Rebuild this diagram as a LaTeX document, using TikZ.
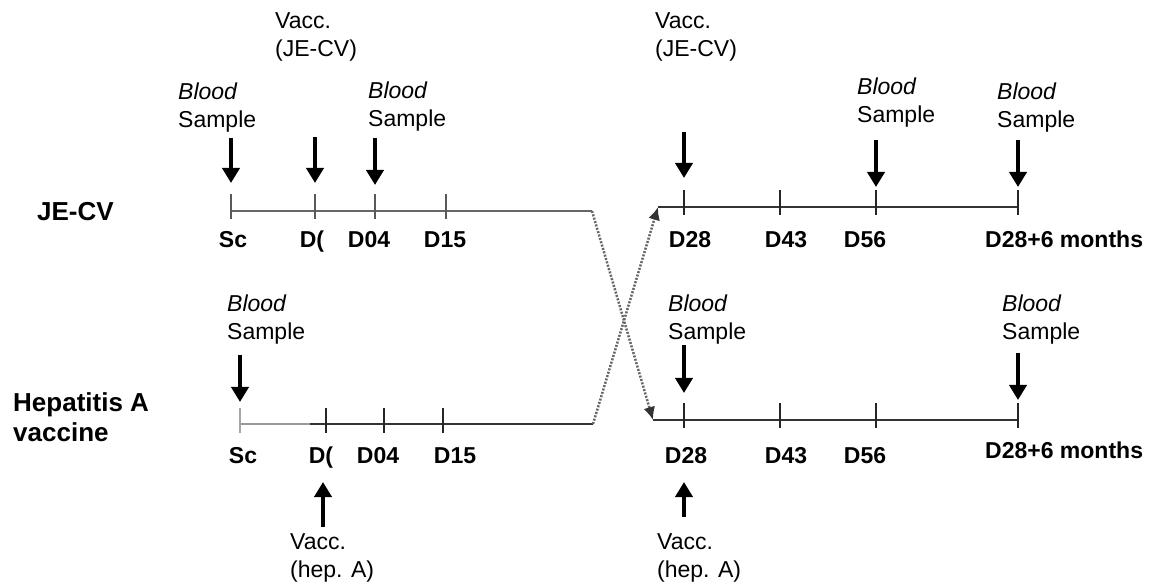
\documentclass[tikz,border=0pt]{standalone}
\usepackage{fontspec}
\setmainfont{Liberation Sans}
\usetikzlibrary{arrows.meta,calc,positioning}

\begin{document}
\begin{tikzpicture}[x=1pt,y=1pt,
  line/.style={line width=2pt,draw=black!80},
  tickmark/.style={line width=2pt,draw=black!85},
  arr/.style={line width=3.8pt,-{Triangle[width=17pt,length=15pt]}},
  cross/.style={line width=2.5pt,draw=black!60,dash pattern=on 2pt off 1.5pt,
    -{Latex[width=12pt,length=13pt,color=black!80]}},
  txt/.style={font=\fontsize{23}{28}\selectfont,align=left,inner sep=0pt,anchor=west},
  day/.style={font=\fontsize{23}{28}\selectfont\bfseries,inner sep=0pt,anchor=base},
  grp/.style={font=\fontsize{26}{30}\selectfont\bfseries,align=left,inner sep=0pt,anchor=west}]

\useasboundingbox (0,0) rectangle (1159,584);

% groups
\node[grp] (je) at (37,372) {JE-CV};
\node[grp] (ha) at (13,167) {Hepatitis A\\vaccine};

% period 1
\coordinate (a1s) at (231,373); \coordinate (a1e) at (592,373);
\coordinate (b1s) at (240,160); \coordinate (b1g) at (310,160); \coordinate (b1e) at (593,160);
\draw[line,draw=black!60] (a1s) -- (a1e);
\draw[line] (b1s) -- (b1e);
\draw[line,draw=black!40] (b1s) -- (b1g);

\foreach \n/\x/\lx/\t in {1/231/233/Sc, 2/315/312/{D(}, 3/375/369/D04, 4/446/445/D15} {
  \coordinate (a1t\n) at (\x,373);
  \draw[tickmark,draw=black!65] ([yshift=-8pt]a1t\n) -- ([yshift=17pt]a1t\n);
  \node[day] (a1l\n) at (\lx,336) {\t};
}
\foreach \n/\x/\lx/\t in {1/240/243/Sc, 2/326/321/{D(}, 3/384/378/D04, 4/443/455/D15} {
  \coordinate (b1t\n) at (\x,160);
  \draw[tickmark] ([yshift=-9pt]b1t\n) -- ([yshift=16pt]b1t\n);
  \node[day] (b1l\n) at (\lx,121) {\t};
}
\draw[tickmark,draw=black!35] ([yshift=-9pt]b1t1) -- ([yshift=16pt]b1t1);

% period 2
\coordinate (a2s) at (658,377); \coordinate (b2s) at (653,164);
\draw[line] (a2s) -- (1018,377);
\draw[line] (b2s) -- (1018,164);

\foreach \n/\x/\lx/\t in {1/684/690/D28, 2/780/786/D43, 3/876/865/D56} {
  \coordinate (a2t\n) at (\x,377);
  \draw[tickmark] ([yshift=-8pt]a2t\n) -- ([yshift=17pt]a2t\n);
  \node[day] (a2l\n) at (\lx,336) {\t};
}
\foreach \n/\x/\lx/\t in {1/684/686/D28, 2/780/786/D43, 3/876/865/D56} {
  \coordinate (b2t\n) at (\x,164);
  \draw[tickmark] ([yshift=-8pt]b2t\n) -- ([yshift=17pt]b2t\n);
  \node[day] (b2l\n) at (\lx,121) {\t};
}
\coordinate (a2t4) at (1018,377); \coordinate (b2t4) at (1018,164);
\draw[tickmark] ([yshift=-8pt]a2t4) -- ([yshift=17pt]a2t4);
\draw[tickmark] ([yshift=-8pt]b2t4) -- ([yshift=17pt]b2t4);
\node[day,anchor=base west] (a2l4) at (985,336) {D28+6 months};
\node[day,anchor=base west] (b2l4) at (985,126) {D28+6 months};

% cross-over
\draw[cross] (a1e) -- (b2s);
\draw[cross] (b1e) -- (a2s);

% events
\node[txt] (vja) at (275,547) {Vacc.\\(JE-CV)};
\node[txt] (bsa1) at (178,476) {\textit{Blood}\\Sample};
\node[txt] (bsa3) at (368,477) {\textit{Blood}\\Sample};
\node[txt] (vjb) at (655,547) {Vacc.\\(JE-CV)};
\node[txt] (bsb3) at (857,481) {\textit{Blood}\\Sample};
\node[txt] (bsb4) at (997,476) {\textit{Blood}\\Sample};
\node[txt] (bsc1) at (227,264) {\textit{Blood}\\Sample};
\node[txt] (vha) at (290,26) {Vacc.\\(hep. A)};
\node[txt] (bsd1) at (668,264) {\textit{Blood}\\Sample};
\node[txt] (bsd4) at (1002,264) {\textit{Blood}\\Sample};
\node[txt] (vhb) at (657,26) {Vacc.\\(hep. A)};

\draw[arr] ([yshift=73pt]a1t1) -- ([yshift=28pt]a1t1);
\draw[arr] ([yshift=74pt]a1t2) -- ([yshift=28pt]a1t2);
\draw[arr] ([yshift=73pt]a1t3) -- ([yshift=26pt]a1t3);
\draw[arr] ([yshift=75pt]a2t1) -- ([yshift=29pt]a2t1);
\draw[arr] ([yshift=67pt]a2t3) -- ([yshift=20pt]a2t3);
\draw[arr] ([yshift=67pt]a2t4) -- ([yshift=20pt]a2t4);
\draw[arr] ([yshift=69pt]b1t1) -- ([yshift=22pt]b1t1);
\draw[arr] ([yshift=75pt]b2t1) -- ([yshift=27pt]b2t1);
\draw[arr] ([yshift=67pt]b2t4) -- ([yshift=20pt]b2t4);
\draw[arr] ([xshift=-3pt,yshift=-103pt]b1t2) -- ([xshift=-3pt,yshift=-58pt]b1t2);
\draw[arr] ([yshift=-97pt]b2t1) -- ([yshift=-62pt]b2t1);
\end{tikzpicture}
\end{document}
